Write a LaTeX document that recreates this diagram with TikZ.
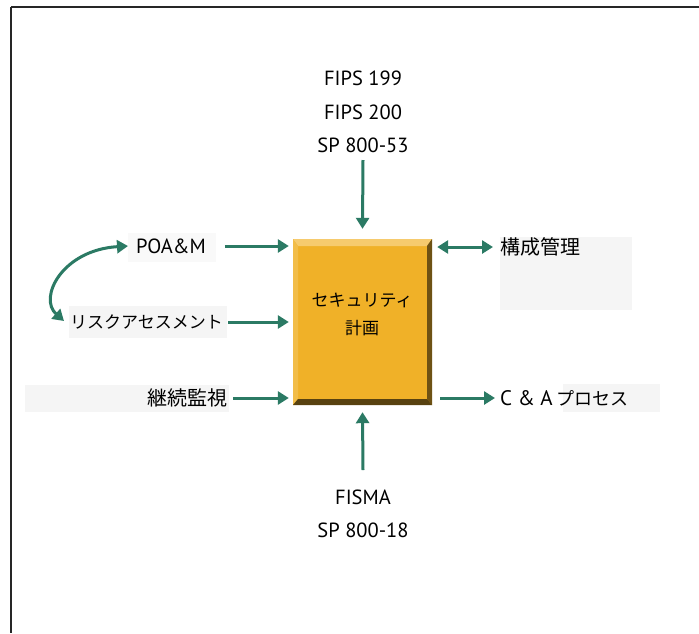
\documentclass[tikz,border=0pt]{standalone}
\usepackage{fontspec}
\setmainfont{PT Sans}
\newfontfamily\jp{Noto Sans CJK JP}
\usetikzlibrary{arrows.meta}
\definecolor{arrgreen}{HTML}{2B7A64}
\definecolor{boxfill}{HTML}{F0B128}
\definecolor{boxlight}{HTML}{F6CB6E}
\definecolor{boxdark}{HTML}{6E5214}
\definecolor{patch}{HTML}{F5F5F5}
\tikzset{
  arr/.style={draw=arrgreen, line width=3pt, -{Triangle[length=11pt,width=13pt]}},
  darr/.style={draw=arrgreen, line width=3pt, {Triangle[length=11pt,width=13pt]}-{Triangle[length=11pt,width=13pt]}},
  en/.style={font=\fontsize{20.5}{33.5}\selectfont, inner sep=0pt, align=center},
  ja/.style={font=\jp\fontsize{18}{28}\selectfont, inner sep=0pt},
}
\begin{document}
\begin{tikzpicture}[x=1pt,y=-1pt]
\useasboundingbox (0,0) rectangle (699,633);
\fill[white] (0,0) rectangle (699,633);
% frame
\draw[line width=2pt, black!85] (11,7) -- (699,7);
\draw[line width=2pt, black!85] (11,7) -- (11,633);
% background patches
\fill[patch] (500,237) rectangle (632,310);
\fill[patch] (563,384) rectangle (660,412);
\fill[patch] (25,385) rectangle (229,412);
\fill[patch] (69,306) rectangle (227,338);
\fill[patch!60!white] (128,233) rectangle (216,262);
% box with bevel
\fill[boxfill] (293,239) rectangle (432,405);
\fill[boxlight] (293,239) -- (432,239) -- (427,246) -- (298,246) -- cycle;
\fill[boxfill!85!white] (293,239) -- (298,246) -- (298,399) -- (293,405) -- cycle;
\fill[boxdark] (432,239) -- (432,405) -- (427,399) -- (427,246) -- cycle;
\fill[boxdark!80!black] (293,405) -- (432,405) -- (427,399) -- (298,399) -- cycle;
\node[inner sep=0pt, minimum width=139pt, minimum height=166pt] (box) at (362.5,322) {};
\node[ja, align=center, font=\jp\fontsize{17}{28}\selectfont] (boxt) at (362,314) {セキュリティ\\計画};
% top and bottom texts
\node[en] (top) at (363,112) {FIPS 199\\FIPS 200\\SP 800-53};
\node[en] (bot) at (363,514) {FISMA\\SP 800-18};
\draw[arr] (363,160) -- ([yshift=10pt]box.north);
\draw[arr] (363,470) -- ([yshift=-7pt]box.south);
% left texts
\node[en, anchor=west] (poa) at (136,246) {POA\&M};
\node[ja, anchor=west, font=\jp\fontsize{17}{20}\selectfont] (risk) at (70,322) {リスクアセスメント};
\node[ja, anchor=east, font=\jp\fontsize{20}{22}\selectfont] (mon) at (228,398) {継続監視};
\draw[arr] ([xshift=19pt]poa.east) -- ([xshift=-4pt]poa.east -| box.west);
\draw[arr] ([xshift=5pt]risk.east) -- ([xshift=-4pt]risk.east -| box.west);
\draw[arr] ([xshift=5pt]mon.east) -- ([xshift=-4pt]mon.east -| box.west);
% right texts
\node[ja, anchor=west, font=\jp\fontsize{20}{22}\selectfont] (cm) at (500,247) {構成管理};
\node[anchor=west, inner sep=0pt] (ca) at (500,398) {\fontsize{21}{22}\selectfont C {\&} A\,\jp\fontsize{18}{22}\selectfont プロセス};
\draw[darr] ([xshift=5pt]box.east |- cm.west) -- ([xshift=-7pt]cm.west);
\draw[arr] ([xshift=8pt]box.east |- ca.west) -- ([xshift=-5pt]ca.west);
% curved arrow
\coordinate (c1) at (64,321);
\draw[darr] (c1) .. controls (38,298) and (62,250) .. ([xshift=-8pt]poa.west);
\end{tikzpicture}
\end{document}
